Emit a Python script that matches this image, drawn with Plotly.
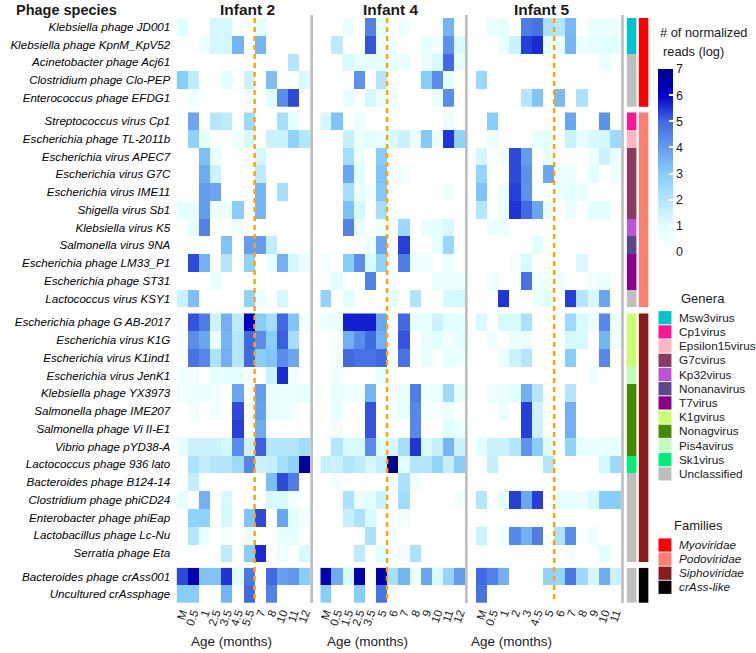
import plotly.graph_objects as go

# ---------------- data ----------------
species = [
    "Klebsiella phage JD001", "Klebsiella phage KpnM_KpV52", "Acinetobacter phage Acj61",
    "Clostridium phage Clo-PEP", "Enterococcus phage EFDG1",
    "Streptococcus virus Cp1", "Escherichia phage TL-2011b", "Escherichia virus APEC7",
    "Escherichia virus G7C", "Escherichia virus IME11", "Shigella virus Sb1",
    "Klebsiella virus K5", "Salmonella virus 9NA", "Escherichia phage LM33_P1",
    "Escherichia phage ST31", "Lactococcus virus KSY1",
    "Escherichia phage G AB-2017", "Escherichia virus K1G", "Escherichia virus K1ind1",
    "Escherichia virus JenK1", "Klebsiella phage YX3973", "Salmonella phage IME207",
    "Salmonella phage Vi II-E1", "Vibrio phage pYD38-A", "Lactococcus phage 936 lato",
    "Bacteroides phage B124-14", "Clostridium phage phiCD24", "Enterobacter phage phiEap",
    "Lactobacillus phage Lc-Nu", "Serratia phage Eta",
    "Bacteroides phage crAss001", "Uncultured crAssphage",
]
genus = [
    "Msw3virus", "Msw3virus", "Unclassified", "Unclassified", "Unclassified",
    "Cp1virus", "Epsilon15virus", "G7cvirus", "G7cvirus", "G7cvirus", "G7cvirus",
    "Kp32virus", "Nonanavirus", "T7virus", "T7virus", "Unclassified",
    "K1gvirus", "K1gvirus", "K1gvirus", "Pis4avirus", "Nonagvirus", "Nonagvirus",
    "Nonagvirus", "Nonagvirus", "Sk1virus", "Unclassified", "Unclassified",
    "Unclassified", "Unclassified", "Unclassified",
    "Unclassified", "Unclassified",
]
family = (["Myoviridae"] * 5 + ["Podoviridae"] * 11 + ["Siphoviridae"] * 14 + ["crAss-like"] * 2)

genera_order = ["Msw3virus", "Cp1virus", "Epsilon15virus", "G7cvirus", "Kp32virus", "Nonanavirus",
                "T7virus", "K1gvirus", "Nonagvirus", "Pis4avirus", "Sk1virus", "Unclassified"]
genera_colors = ["#00C5CD", "#FF1493", "#FFB6C1", "#8B3A62", "#BA55D3", "#5D478B",
                 "#8B008B", "#CAFF70", "#458B00", "#C1FFC1", "#00EE76", "#BEBEBE"]
family_order = ["Myoviridae", "Podoviridae", "Siphoviridae", "crAss-like"]
family_colors = ["#FF0000", "#FA8072", "#8B1A1A", "#000000"]

infants = ["Infant 2", "Infant 4", "Infant 5"]
ages_infant2 = ["M", "0.5", "1", "2.5", "3.5", "4.5", "5.5", "7", "8", "10", "11", "12"]
ages_infant4 = ["M", "0.5", "1.5", "2.5", "3.5", "5", "6", "7", "8", "9", "10", "11", "12"]
ages_infant5 = ["M", "0.5", "1", "2", "3", "4.5", "5", "6", "7", "8", "9", "10", "11"]
last_age_before_solid = ["5.5", "5", "5"]

reads_infant2 = [
    [1, 0, 0, 1.3, 1.3, 0, 0, 1, 0, 0, 0, 0],
    [0, 0, 0.5, 1.3, 1.3, 3.5, 0, 3.5, 0, 0, 0, 0],
    [0, 0, 0, 0, 0, 0, 0, 0, 0, 0, 2, 0],
    [3, 1.8, 0, 0, 1, 0, 1.5, 0, 3.3, 0, 0, 1.2],
    [0, 0.5, 0, 0, 0, 0, 0.5, 0, 1, 4.3, 5.3, 0],
    [0, 3.8, 0, 2, 1.8, 0, 2.5, 0, 0, 2.3, 0.8, 0],
    [0, 2.8, 0.8, 0, 0, 0.5, 1.2, 0, 1.5, 1.5, 2.8, 2],
    [0, 0, 3.3, 0.7, 0, 0, 0, 1.3, 0, 0, 0, 0],
    [0, 0, 3.7, 1.5, 0, 0, 0, 1.8, 0, 0, 0, 0],
    [0, 0, 4, 3.8, 0, 0, 0, 3.5, 0, 2.3, 0, 0],
    [0.8, 0.8, 4, 0.5, 0.6, 3, 0, 3.5, 0, 0, 0, 0],
    [0, 0.8, 4.5, 0, 0, 0.4, 0, 0, 0, 0, 0, 0],
    [0, 0, 0, 0, 3.2, 0, 4, 4, 1.7, 0, 0, 0],
    [0, 5.3, 3.6, 0, 2, 0, 2.8, 0, 0.8, 3.6, 1.3, 0.6],
    [0, 0, 0, 0.8, 0, 0, 0, 0, 0, 0, 0, 0],
    [1.5, 3.3, 0, 0, 0, 0, 2.8, 0.6, 0, 1.3, 0, 0],
    [0, 5.2, 4.6, 1.5, 3.6, 1.8, 6.1, 3, 2.3, 5, 3.2, 0.5],
    [0, 4.3, 3.8, 0.6, 3.5, 2, 5, 4.3, 3, 5.1, 2.3, 0],
    [0, 4.8, 4.4, 2.2, 3.6, 2, 5, 3, 3.2, 4.3, 3.8, 0],
    [0.5, 0.4, 0, 0.8, 0.8, 0.8, 0, 0, 1.5, 5.6, 0.5, 0],
    [0.4, 0.6, 0.6, 0.4, 0, 3.8, 0, 4, 0.6, 0.6, 0.6, 0.8],
    [0, 0.4, 0, 0.4, 0, 5.3, 0, 3.9, 0.6, 0.6, 0.4, 0],
    [0, 0, 0, 0, 0, 5.4, 0, 3.7, 0, 0, 0, 0],
    [0.8, 1.5, 1.5, 1.5, 1.3, 4.3, 1.5, 5.1, 2, 2, 2, 2.4],
    [0, 2.2, 1.7, 2, 2, 2.5, 4.4, 1.5, 1.6, 2.3, 2.8, 6.8],
    [0, 1.7, 0, 0, 0, 0, 0, 0, 3.3, 5.3, 4.6, 0],
    [0.8, 0, 3.6, 0, 1.2, 0, 0, 0, 1.2, 1.2, 0.5, 0],
    [0, 2.8, 2.8, 0, 1.3, 0, 3.2, 5.3, 0, 3.8, 1, 0.5],
    [0, 2, 0.6, 0, 0.4, 0, 0.6, 0, 0, 0.8, 0.8, 0],
    [0, 0, 0, 0, 1.8, 0, 3, 5.6, 0, 0.6, 0, 1.2],
    [5.3, 6.4, 3.2, 3.2, 5.5, 1, 4.7, 0, 5, 3.9, 4.1, 3],
    [3, 3, 0, 0, 3.5, 0, 5, 0, 4.5, 0, 0, 0],
]
reads_infant4 = [
    [0, 0, 0.6, 0, 4.5, 0.8, 0, 0.5, 0, 0, 0, 3.5, 0],
    [0, 1.8, 0, 0, 5.2, 0.6, 0.5, 0, 0, 0.8, 0.5, 4.2, 1.2],
    [0, 0, 1.2, 0.8, 0.8, 0.8, 0.6, 0.6, 0, 0.6, 1.2, 5, 0.8],
    [0, 0, 0, 4.2, 0, 2, 0, 0, 0, 3, 4.3, 0.8, 0],
    [0, 0, 0.8, 0, 1.3, 0.6, 0.5, 0, 0, 0, 0.6, 4.3, 0],
    [1.3, 3.2, 0, 0.6, 0, 0, 0, 0, 0, 0, 0, 0.6, 0],
    [0, 0, 1.6, 0.6, 1, 0.8, 1.2, 1.5, 0.6, 3.1, 0.6, 5.5, 2.8],
    [0, 0, 2.3, 0.6, 0, 3, 0, 0, 0, 0, 0, 0, 0],
    [0, 0, 3.8, 1, 0, 3.2, 0, 0.4, 0, 0, 0, 0, 0],
    [0, 0, 2.3, 0.6, 0.4, 3.1, 0, 0, 0, 0, 0, 0.5, 0],
    [0, 0, 3.3, 1.3, 0, 2.3, 0, 0, 0, 0, 0, 0, 0],
    [0, 0, 4.5, 0.8, 0, 0.5, 0, 2.5, 0, 0.6, 0.8, 1.2, 0],
    [0, 0, 0, 0, 0.6, 3.8, 0, 5.4, 0, 0, 0.8, 2.6, 0],
    [0.5, 0, 3, 4.3, 1.2, 2.8, 0, 4.6, 0.6, 0.5, 0, 0.6, 0],
    [0, 1, 0, 0, 4.5, 0, 0.3, 0, 0, 0, 0.6, 0.6, 0.6],
    [2.8, 0, 1, 0, 0, 0, 0.8, 0, 2.1, 0, 0, 1.2, 1.3],
    [0.6, 0.6, 5.7, 5.7, 5.7, 3.8, 0, 5, 0.8, 0.8, 1.5, 1, 0.8],
    [0, 0.3, 3.6, 4.3, 5, 3.6, 0, 5.2, 0, 0.6, 1, 0.4, 0.8],
    [0, 0.3, 5, 4.8, 4.8, 5, 0, 4.8, 0, 0.8, 0, 0.8, 0.6],
    [0, 0.5, 0, 0, 0, 0.8, 0, 0, 0, 0, 0, 0, 0],
    [0, 0.7, 0.5, 0.5, 3.5, 0, 0.3, 0.6, 4.6, 0.5, 0.6, 2.5, 0.8],
    [0, 0.8, 0, 0, 5.2, 0, 0.4, 0.6, 4.4, 0.3, 0.3, 0.6, 0],
    [0, 0.4, 0, 0, 5.2, 0, 0, 0, 4.4, 0, 0, 1, 0.6],
    [0, 2, 1.2, 1.2, 4.3, 1, 1.2, 2.3, 5.5, 1.2, 1.6, 3.5, 1.5],
    [1.6, 1.5, 2, 1.8, 1.3, 1.6, 6.9, 1, 2, 2, 2.7, 1.6, 3],
    [0, 0.3, 0, 0, 0, 0, 0, 2.2, 0.4, 0, 0, 0, 0],
    [0, 0, 2.2, 0.6, 1, 1.5, 0, 2.4, 0, 0, 0, 0, 0.4],
    [0, 0, 1.6, 2.2, 1.2, 0, 0, 0.4, 0, 0, 0, 0, 0],
    [0, 0, 0, 0, 2.2, 0, 0.3, 0, 0, 0, 0, 0, 0],
    [0, 0, 0, 1.8, 0, 1, 0, 0.4, 2.2, 0, 0, 0, 0],
    [6.5, 3.7, 1.2, 6.5, 0, 6.5, 2.3, 3.5, 0.6, 3.8, 1.2, 2.7, 4],
    [3, 0, 0, 3, 0, 4.8, 0, 0, 0, 0, 0, 0, 0],
]
reads_infant5 = [
    [0, 0.8, 0.8, 0, 4.6, 4.8, 2.2, 2, 3.4, 0, 0.6, 0.6, 0.6],
    [0, 0, 0.6, 1.5, 5.4, 5.6, 0.8, 0.8, 3.5, 0.6, 0.8, 1, 1],
    [0, 0, 0, 0, 0, 0, 0, 0, 0, 0, 0, 0.6, 0],
    [2.6, 0, 0, 0, 0, 0, 0, 0, 0, 0, 0, 0, 0],
    [0, 0, 0, 0, 2, 3.2, 0, 3.4, 0, 2.2, 0, 0, 0],
    [0, 3, 0, 0, 0, 0, 0, 0, 3.8, 0, 0, 4.2, 0],
    [0, 0.6, 0, 0, 0, 0.8, 0.8, 0, 1.5, 0.8, 1.2, 1.3, 2.5],
    [1.3, 0, 0.5, 5.3, 4, 0, 0.7, 0, 0, 0, 0.6, 1.5, 0.6],
    [2.7, 0, 0, 5.3, 4.2, 0, 3.8, 0.6, 0.6, 0, 1, 0, 0.6],
    [3.2, 0, 0.6, 5.4, 4.2, 0, 0, 0.6, 0.8, 0.6, 0, 0, 0],
    [2, 0, 0.6, 5.5, 5, 3.8, 0.6, 0, 0.6, 0, 1, 1, 0],
    [0, 0.6, 0.6, 0, 0, 0, 0, 0, 0, 0, 0, 0, 0],
    [0, 0, 0, 0, 0, 1, 0, 0, 0, 0, 0, 0, 0],
    [0, 0, 0, 0.3, 1.2, 0, 0, 0, 0, 1.2, 0, 0, 0],
    [0, 0.6, 0, 0, 4.8, 0.5, 0.5, 0.5, 0, 0, 0.5, 0.6, 0],
    [0, 0, 5.5, 0, 0, 0.6, 1, 0, 5.4, 2, 1.2, 3.8, 0],
    [1.2, 0, 1.2, 1.2, 2.2, 0, 0, 0, 2.5, 1.2, 0.6, 4.4, 0.6],
    [0, 0.5, 0, 0.6, 0.6, 0, 0, 0, 1.3, 1.2, 0, 3.5, 0.5],
    [0, 0, 0.8, 1.5, 2, 0, 0, 0, 3, 0, 0, 4.4, 0],
    [0, 0, 0, 0, 0, 0, 0, 0, 0, 0, 0.6, 0, 0],
    [0, 0.6, 0.6, 1, 3.6, 2, 0, 0, 2, 0, 0, 0, 0],
    [0, 0, 0.6, 0, 5.4, 1.5, 0, 0, 3.6, 0, 0, 0, 0],
    [0, 0, 0, 0, 5.4, 1.5, 0, 0, 3.6, 0, 0, 0, 0],
    [1, 1.5, 1.5, 2, 4.2, 3, 1, 0, 2.8, 0.8, 0.6, 0.8, 0.8],
    [0, 1.6, 0, 0, 0, 0, 2, 0, 0, 0, 0, 1.3, 2.5],
    [0, 0, 0, 0, 0, 0, 0, 0, 0, 0, 0, 0, 0],
    [2, 0, 1, 5.4, 3.8, 5.4, 0, 0.8, 0.8, 0.6, 1.2, 3, 3],
    [0, 0, 0, 0, 0, 0, 0, 0, 0, 0, 0, 0, 0],
    [1.5, 0, 0.5, 4.4, 3.6, 4.6, 0, 2.2, 4.3, 0, 0.6, 0, 0],
    [0, 0, 0, 0, 0, 0, 0, 0, 0.3, 0, 0, 1, 0],
    [5, 4.5, 3.6, 0, 0, 0, 2.8, 2.7, 4.7, 2.5, 1.3, 3.7, 1.5],
    [4.8, 0, 0, 0, 0, 0, 0, 0, 0, 0, 0, 0, 0],
]
colorbar_ticks = [0, 1, 2, 3, 4, 5, 6, 7]

# ---------------- layout helpers ----------------
W, H = 756, 653
FONT = "Liberation Sans, Arial, sans-serif"


def fx(px):
    return px / W


def fy(py):
    return 1 - py / H


ages = [ages_infant2, ages_infant4, ages_infant5]
reads = [reads_infant2, reads_infant4, reads_infant5]

# pixel extents of panels (columns) and groups (rows)
col_px = [(175.5, 310.0), (320.0, 465.5), (476.5, 622.5), (628.0, 638.0), (640.0, 650.0)]
row_px = [(18.0, 106.8), (112.3, 307.3), (313.3, 562.0), (567.7, 603.0)]

groups = []
for fam in family_order:
    groups.append([i for i, f in enumerate(family) if f == fam])

colorscale = [
    [0.0, "#FFFFFF"], [1 / 7, "#E0FFFF"], [3 / 7, "#87CEFA"],
    [5 / 7, "#4169E1"], [6 / 7, "#0000CD"], [1.0, "#00008B"],
]


def discrete_scale(colors):
    n = len(colors)
    sc = []
    for i, c in enumerate(colors):
        sc.append([i / n, c])
        sc.append([(i + 1) / n, c])
    return sc


fig = go.Figure()
layout = dict(
    width=W, height=H, autosize=False,
    margin=dict(l=0, r=0, t=0, b=0, pad=0),
    paper_bgcolor="white", plot_bgcolor="white",
    font=dict(family=FONT, color="black", size=12),
    showlegend=False,
)

k = 0
for g, idxs in enumerate(groups):
    ynames = [species[i] for i in idxs]
    for p in range(5):
        k += 1
        xa = "x" if k == 1 else f"x{k}"
        ya = "y" if k == 1 else f"y{k}"
        if p < 3:
            z = [reads[p][i] for i in idxs]
            fig.add_trace(go.Heatmap(
                x=ages[p], y=ynames, z=z, coloraxis="coloraxis",
                xaxis=xa, yaxis=ya, hoverinfo="x+y+z",
            ))
        elif p == 3:
            z = [[genera_order.index(genus[i])] for i in idxs]
            fig.add_trace(go.Heatmap(
                x=["Genera"], y=ynames, z=z, colorscale=discrete_scale(genera_colors),
                zmin=-0.5, zmax=len(genera_order) - 0.5, showscale=False,
                xaxis=xa, yaxis=ya, text=[[genus[i]] for i in idxs], hoverinfo="y+text",
            ))
        else:
            z = [[family_order.index(family[i])] for i in idxs]
            fig.add_trace(go.Heatmap(
                x=["Families"], y=ynames, z=z, colorscale=discrete_scale(family_colors),
                zmin=-0.5, zmax=len(family_order) - 0.5, showscale=False,
                xaxis=xa, yaxis=ya, text=[[family[i]] for i in idxs], hoverinfo="y+text",
            ))
        xkey = "xaxis" if k == 1 else f"xaxis{k}"
        ykey = "yaxis" if k == 1 else f"yaxis{k}"
        show_x = (g == 3 and p < 3)
        xax = dict(
            domain=[fx(col_px[p][0]), fx(col_px[p][1])], anchor=ya,
            type="category", showgrid=False, zeroline=False, showline=False,
            ticks="", showticklabels=show_x, tickangle=-70,
            tickfont=dict(family=FONT, size=11.5, color="#1a1a1a"),
            fixedrange=True,
        )
        if p < 3:
            xax.update(tickmode="array", tickvals=ages[p], ticktext=ages[p])
        layout[xkey] = xax
        layout[ykey] = dict(
            domain=[fy(row_px[g][1]), fy(row_px[g][0])], anchor=xa,
            type="category", categoryorder="array", categoryarray=ynames,
            autorange="reversed", showgrid=False, zeroline=False, showline=False,
            ticks="outside", ticklen=3, tickcolor="rgba(0,0,0,0)",
            showticklabels=(p == 0),
            tickmode="array", tickvals=ynames, ticktext=ynames,
            tickfont=dict(family=FONT, size=11.6, color="black", style="italic"),
            fixedrange=True,
        )

layout["coloraxis"] = dict(
    colorscale=colorscale, cmin=0, cmax=7,
    colorbar=dict(
        x=fx(659), xanchor="left", y=fy(69), yanchor="top",
        len=(252 - 69) / H, lenmode="fraction", thickness=15, thicknessmode="pixels",
        outlinewidth=0, xpad=0, ypad=0, tickvals=colorbar_ticks,
        ticks="inside", ticklen=4, tickwidth=1.5, tickcolor="white",
        tickfont=dict(family=FONT, size=12.5, color="#1a1a1a"),
        title=dict(text=""),
    ),
)

shapes = []
annotations = []

# panel separators (gray) and solid-food lines (orange)
for p in range(3):
    xr = col_px[p][1]
    shapes.append(dict(type="line", xref="paper", yref="paper",
                       x0=fx(xr + 1.3), x1=fx(xr + 1.3), y0=fy(15), y1=fy(603),
                       line=dict(color="#BDBDBD", width=2.6)))
    xa = "x" if p == 0 else f"x{p + 1}"
    pos = ages[p].index(last_age_before_solid[p]) + 0.5
    shapes.append(dict(type="line", xref=xa, yref="paper",
                       x0=pos, x1=pos, y0=fy(18), y1=fy(603),
                       line=dict(color="#FFA500", width=2.5, dash="5px,4px")))

# titles
title_x = [247, 390.5, 542.5]
for p, name in enumerate(infants):
    annotations.append(dict(text=f"<b>{name}</b>", x=fx(title_x[p]), y=fy(9.5),
                            xref="paper", yref="paper", showarrow=False,
                            xanchor="center", yanchor="middle",
                            font=dict(family=FONT, size=15.5, color="#1a1a1a")))
age_x = [231, 367, 512]
for p in range(3):
    annotations.append(dict(text="Age (months)", x=fx(age_x[p]), y=fy(641),
                            xref="paper", yref="paper", showarrow=False,
                            xanchor="center", yanchor="middle",
                            font=dict(family=FONT, size=13.5, color="#1a1a1a")))
annotations.append(dict(text="<b>Phage species</b>", x=fx(12), y=fy(10),
                        xref="paper", yref="paper", showarrow=False,
                        xanchor="left", yanchor="middle",
                        font=dict(family=FONT, size=14.5, color="#1a1a1a")))

# colorbar title
annotations.append(dict(text="# of normalized", x=fx(659), y=fy(32),
                        xref="paper", yref="paper", showarrow=False,
                        xanchor="left", yanchor="middle",
                        font=dict(family=FONT, size=12.8, color="#1a1a1a")))
annotations.append(dict(text="reads (log)", x=fx(663), y=fy(52),
                        xref="paper", yref="paper", showarrow=False,
                        xanchor="left", yanchor="middle",
                        font=dict(family=FONT, size=12.8, color="#1a1a1a")))

# Genera legend
annotations.append(dict(text="Genera", x=fx(705), y=fy(298), xref="paper", yref="paper",
                        showarrow=False, xanchor="center", yanchor="middle",
                        font=dict(family=FONT, size=13, color="#1a1a1a")))
for i, (gname, gcol) in enumerate(zip(genera_order, genera_colors)):
    cy = 317.7 + i * 14.2
    shapes.append(dict(type="rect", xref="paper", yref="paper",
                       x0=fx(660), x1=fx(673), y0=fy(cy - 6.6), y1=fy(cy + 6.6),
                       fillcolor=gcol, line=dict(width=0)))
    annotations.append(dict(text=gname, x=fx(678.5), y=fy(cy), xref="paper", yref="paper",
                            showarrow=False, xanchor="left", yanchor="middle",
                            font=dict(family=FONT, size=11.8, color="#1a1a1a")))

# Families legend
annotations.append(dict(text="Families", x=fx(700.5), y=fy(525), xref="paper", yref="paper",
                        showarrow=False, xanchor="center", yanchor="middle",
                        font=dict(family=FONT, size=13, color="#1a1a1a")))
for i, (fname, fcol) in enumerate(zip(family_order, family_colors)):
    cy = 545 + i * 14.1
    shapes.append(dict(type="rect", xref="paper", yref="paper",
                       x0=fx(660), x1=fx(673), y0=fy(cy - 6.6), y1=fy(cy + 6.6),
                       fillcolor=fcol, line=dict(width=0)))
    annotations.append(dict(text=f"<i>{fname}</i>", x=fx(678.5), y=fy(cy),
                            xref="paper", yref="paper",
                            showarrow=False, xanchor="left", yanchor="middle",
                            font=dict(family=FONT, size=11.8, color="#1a1a1a")))

layout["shapes"] = shapes
layout["annotations"] = annotations
fig.update_layout(**layout)
fig.write_html(
    "out.html",
    config={"displayModeBar": False},
    post_script="document.body.style.margin='0';document.body.style.padding='0';"
                "document.body.style.overflow='hidden';",
)
